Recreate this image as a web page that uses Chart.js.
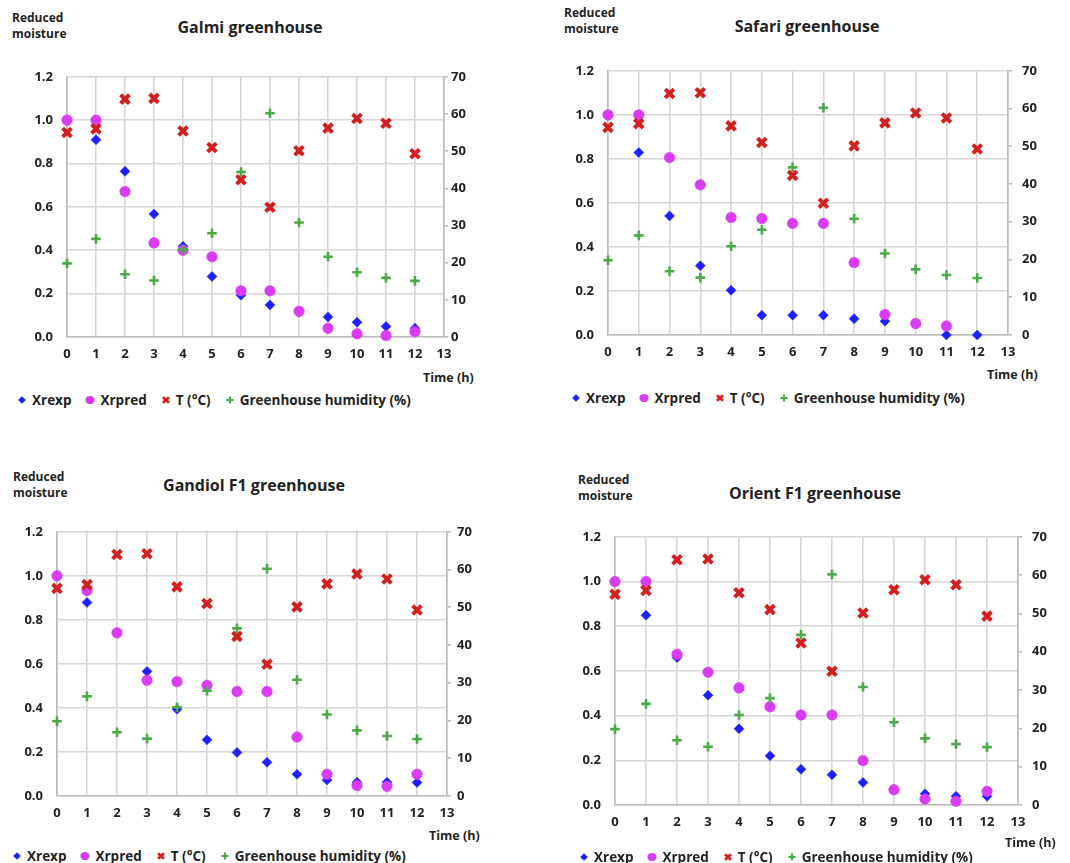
<!DOCTYPE html>
<html>
<head>
<meta charset="utf-8">
<script src="https://cdn.jsdelivr.net/npm/chart.js@4.4.1/dist/chart.umd.min.js"></script>
<style>
  html, body { margin: 0; padding: 0; background: #fff; }
  body { width: 1070px; height: 863px; position: relative; overflow: hidden; font-family: 'Open Sans', sans-serif; color: #222; }
  canvas { position: absolute; }
  .title { position: absolute; width: 400px; text-align: center; font-weight: 700; font-size: 16px; line-height: 20px; white-space: nowrap; }
  .ylab { position: absolute; font-weight: 700; font-size: 12px; line-height: 16px; white-space: nowrap; }
  .xlab { position: absolute; font-weight: 700; font-size: 12.5px; line-height: 16px; white-space: nowrap; }
  .legend { position: absolute; display: flex; align-items: center; font-weight: 700; font-size: 13.5px; line-height: 18px; white-space: nowrap; }
  .legend .item { display: flex; align-items: center; margin-right: 13px; }
  .legend svg { margin-right: 4px; }
</style>
</head>
<body>
<script>
// ---------- data ----------
const hours = [0, 1, 2, 3, 4, 5, 6, 7, 8, 9, 10, 11, 12];
const temperature = [55.0, 56.0, 64.0, 64.2, 55.4, 51.0, 42.3, 34.9, 50.1, 56.2, 58.8, 57.5, 49.3];
const humidity = [19.8, 26.4, 16.9, 15.2, 23.5, 27.9, 44.4, 60.2, 30.8, 21.6, 17.4, 15.9, 15.1];

const galmiXrexp  = [1.0, 0.91, 0.764, 0.567, 0.418, 0.279, 0.193, 0.148, 0.115, 0.092, 0.068, 0.049, 0.040];
const galmiXrpred = [1.0, 1.0, 0.671, 0.434, 0.400, 0.370, 0.213, 0.213, 0.119, 0.040, 0.015, 0.007, 0.025];

const safariXrexp  = [1.0, 0.829, 0.541, 0.315, 0.203, 0.090, 0.090, 0.090, 0.074, 0.063, 0.050, 0.0, 0.0];
const safariXrpred = [1.0, 1.0, 0.806, 0.682, 0.534, 0.529, 0.507, 0.507, 0.329, 0.093, 0.052, 0.041, null];

const gandiolXrexp  = [1.0, 0.879, 0.740, 0.566, 0.394, 0.255, 0.198, 0.153, 0.099, 0.073, 0.063, 0.063, 0.061];
const gandiolXrpred = [1.0, 0.933, 0.741, 0.526, 0.520, 0.503, 0.475, 0.475, 0.268, 0.099, 0.048, 0.044, 0.099];

const orientXrexp  = [1.0, 0.849, 0.660, 0.491, 0.341, 0.220, 0.160, 0.135, 0.101, 0.070, 0.050, 0.039, 0.039];
const orientXrpred = [1.0, 1.0, 0.674, 0.594, 0.524, 0.440, 0.403, 0.403, 0.199, 0.068, 0.027, 0.017, 0.061];

const chartTitles = ['Galmi greenhouse', 'Safari greenhouse', 'Gandiol F1 greenhouse', 'Orient F1 greenhouse'];
const seriesNames = ['Xrexp', 'Xrpred', 'T (°C)', 'Greenhouse humidity (%)'];
const yAxisLabel = ['Reduced', 'moisture'];
const xAxisLabel = 'Time (h)';
const xTicks = [0, 13, 1];
const yLeftTicks = [0, 1.2, 0.2];
const yRightTicks = [0, 70, 10];

// ---------- layout ----------
const COLORS = { exp: '#1f1fff', pred: '#d93cf5', temp: '#d22020', hum: '#4aaa48' };
const panels = [
  { exp: galmiXrexp,   pred: galmiXrpred,   plot: { l: 67,  t: 67,  r: 444,  b: 337 }, rgap: 7,
    title: { cx: 250, cy: 27 }, ylab: { x: 12, y: 10 }, xlab: { x: 423, y: 370 }, legend: { x: 16, y: 400 } },
  { exp: safariXrexp,  pred: safariXrpred,  plot: { l: 608, t: 61,  r: 1008, b: 335 }, rgap: 14,
    title: { cx: 807, cy: 26 }, ylab: { x: 564, y: 5 }, xlab: { x: 987, y: 367 }, legend: { x: 570, y: 398 } },
  { exp: gandiolXrexp, pred: gandiolXrpred, plot: { l: 57,  t: 522, r: 447,  b: 796 }, rgap: 10,
    title: { cx: 254, cy: 485 }, ylab: { x: 13, y: 469 }, xlab: { x: 429, y: 828 }, legend: { x: 11, y: 856 } },
  { exp: orientXrexp,  pred: orientXrpred,  plot: { l: 615, t: 527, r: 1018, b: 805 }, rgap: 14,
    title: { cx: 815, cy: 493 }, ylab: { x: 578, y: 472 }, xlab: { x: 1005, y: 835 }, legend: { x: 578, y: 857 } }
];

const LW = 60, RW = 45, TP = 12, BH = 30;
Chart.defaults.font.family = "'Open Sans', sans-serif";

function pts(ys) { return hours.map((h, i) => ({ x: h, y: ys[i] })).filter(p => p.y !== null); }

function symbolSvg(kind) {
  const s = '<svg width="12" height="12" viewBox="-6 -6 12 12">';
  if (kind === 0) return s + '<polygon points="0,-3.8 3.8,0 0,3.8 -3.8,0" fill="' + COLORS.exp + '"/></svg>';
  if (kind === 1) return s + '<ellipse rx="4.6" ry="4.1" fill="' + COLORS.pred + '"/></svg>';
  if (kind === 2) return s + '<path d="M-3,-2.8L3,2.8M3,-2.8L-3,2.8" stroke="' + COLORS.temp + '" stroke-width="2.8"/></svg>';
  return s + '<path d="M-3.6,0H3.6M0,-3.6V3.6" stroke="' + COLORS.hum + '" stroke-width="2.2"/></svg>';
}

function addDiv(cls, html, style) {
  const d = document.createElement('div');
  d.className = cls; d.innerHTML = html;
  Object.assign(d.style, style);
  document.body.appendChild(d);
  return d;
}

panels.forEach((p, idx) => {
  const w = (p.plot.r - p.plot.l) + LW + RW;
  const h = (p.plot.b - p.plot.t) + TP + BH;
  const cv = document.createElement('canvas');
  cv.width = w; cv.height = h;
  cv.style.left = (p.plot.l - LW) + 'px';
  cv.style.top = (p.plot.t - TP) + 'px';
  cv.style.width = w + 'px'; cv.style.height = h + 'px';
  document.body.appendChild(cv);

  const tickFont = { size: 13, weight: 'bold' };
  const gridColor = '#d6d6d6', axisColor = '#bcbcbc', tickColor = '#222';

  new Chart(cv.getContext('2d'), {
    type: 'scatter',
    data: {
      datasets: [
        { label: seriesNames[0], data: pts(p.exp), yAxisID: 'y', order: 4, clip: false,
          pointStyle: 'rectRot', pointRadius: 5, pointBackgroundColor: COLORS.exp, pointBorderColor: COLORS.exp, pointBorderWidth: 0.5 },
        { label: seriesNames[1], data: pts(p.pred), yAxisID: 'y', order: 3, clip: false,
          pointStyle: 'circle', pointRadius: 5.3, pointBackgroundColor: COLORS.pred, pointBorderColor: COLORS.pred, pointBorderWidth: 0.5 },
        { label: seriesNames[2], data: pts(temperature), yAxisID: 'y1', order: 2, clip: false,
          pointStyle: 'crossRot', pointRadius: 6.2, pointBorderColor: COLORS.temp, pointBorderWidth: 4 },
        { label: seriesNames[3], data: pts(humidity), yAxisID: 'y1', order: 1, clip: false,
          pointStyle: 'cross', pointRadius: 4.8, pointBorderColor: COLORS.hum, pointBorderWidth: 2.6 }
      ]
    },
    options: {
      responsive: false, animation: false, devicePixelRatio: 1,
      layout: { padding: { top: TP, left: 0, right: 0, bottom: 0 } },
      plugins: { legend: { display: false }, title: { display: false }, tooltip: { enabled: false } },
      scales: {
        x: {
          type: 'linear', min: xTicks[0], max: xTicks[1],
          afterFit: s => { s.height = BH; },
          ticks: { stepSize: xTicks[2], color: tickColor, font: tickFont, padding: 9, maxRotation: 0, autoSkip: false },
          grid: { color: gridColor, lineWidth: 1.6, drawTicks: false },
          border: { display: true, color: axisColor, width: 1.6 }
        },
        y: {
          position: 'left', min: yLeftTicks[0], max: yLeftTicks[1],
          afterFit: s => { s.width = LW; },
          ticks: { stepSize: yLeftTicks[2], color: tickColor, font: tickFont, padding: 14,
                   callback: v => Number(v).toFixed(1) },
          grid: { color: gridColor, lineWidth: 1.6, drawTicks: false },
          border: { display: true, color: axisColor, width: 1.6 }
        },
        y1: {
          position: 'right', min: yRightTicks[0], max: yRightTicks[1],
          afterFit: s => { s.width = RW; },
          ticks: { stepSize: yRightTicks[2], color: tickColor, font: tickFont, padding: p.rgap - 4 },
          grid: { color: axisColor, lineWidth: 1.6, drawOnChartArea: false, drawTicks: true, tickLength: 4 },
          border: { display: true, color: axisColor, width: 1.6 }
        }
      }
    }
  });

  addDiv('title', chartTitles[idx], { left: (p.title.cx - 200) + 'px', top: (p.title.cy - 10) + 'px' });
  addDiv('ylab', yAxisLabel.join('<br>'), { left: p.ylab.x + 'px', top: p.ylab.y + 'px' });
  addDiv('xlab', xAxisLabel, { left: p.xlab.x + 'px', top: p.xlab.y + 'px' });
  const items = seriesNames.map((n, k) => '<span class="item">' + symbolSvg(k) + '<span>' + n + '</span></span>').join('');
  addDiv('legend', items, { left: p.legend.x + 'px', top: (p.legend.y - 9) + 'px' });
});
</script>
</body>
</html>
